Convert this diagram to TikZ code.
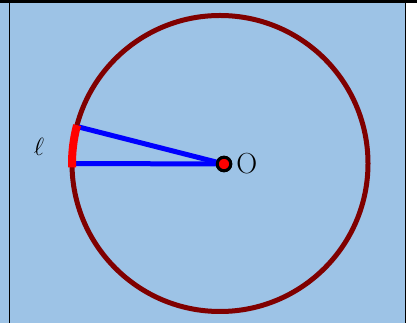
\documentclass[tikz,border=0pt]{standalone}
\usepackage{tikz}
\usetikzlibrary{positioning,calc}
\definecolor{skyfill}{RGB}{157,195,230}
\definecolor{ringred}{RGB}{128,0,0}
\tikzset{
  ring/.style={draw=ringred,line width=5pt},
  arcmark/.style={draw=red,line width=8pt},
  radius line/.style={draw=blue,line width=5pt},
  centre/.style={circle,fill=red,draw=black,line width=3pt,minimum size=13.5pt,inner sep=0pt},
  big/.style={font=\fontsize{29}{32}\selectfont,inner sep=1pt},
}
\begin{document}
\begin{tikzpicture}[x=1pt,y=1pt]
\useasboundingbox (0,0) rectangle (417,323);
% background and frame
\fill[skyfill] (0,0) rectangle (405.5,320);
\fill[black] (0,320) rectangle (417,323);
\draw[line width=1.3pt] (9.5,0) -- (9.5,323);
\draw[line width=1.3pt] (405.5,0) -- (405.5,323);

% circle
\coordinate (c) at (220,159.5);
\draw[ring] (c) circle[radius=148];

% arc and radii
\coordinate (a) at ($(c)+(180:148)$);
\coordinate (b) at ($(c)+(165.7:148)$);
\node[centre] (O) at (224,159) {};
\draw[radius line] (O.center) -- ($(a)+(2,0)$);
\draw[radius line] (O.center) -- ($(b)+(2,0)$);
\draw[arcmark] ($(c)+(181.5:148)$) arc[start angle=181.5,end angle=165,radius=148];
\node[centre] at (O) {};

% labels
\node[big, right=3pt of O] (Olabel) {O};
\node[big] (ell) at (39,176) {$\ell$};
\end{tikzpicture}
\end{document}
